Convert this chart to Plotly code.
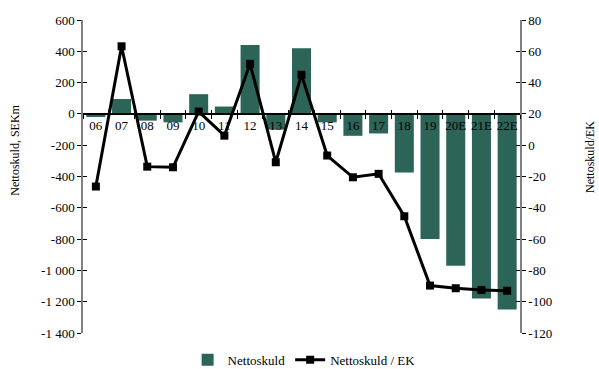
import plotly.graph_objects as go

# Years (E = estimate)
years = ["06", "07", "08", "09", "10", "11", "12", "13", "14", "15",
         "16", "17", "18", "19", "20E", "21E", "22E"]

# Net debt, SEKm (left axis)
net_debt = [-20, 95, -43, -54, 126, 47, 440, -100, 420, -54,
            -140, -125, -375, -800, -970, -1180, -1250]

# Net debt / equity, % (right axis)
net_debt_to_equity = [-26.4, 63.2, -13.7, -14.1, 21.5, 6.1, 52.0, -10.9, 45.0, -6.6,
                      -20.5, -18.3, -45.4, -89.7, -91.4, -92.5, -93.0]

left_ticks = [600, 400, 200, 0, -200, -400, -600, -800, -1000, -1200, -1400]
left_labels = ["600", "400", "200", "0", "-200", "-400", "-600", "-800",
               "-1 000", "-1 200", "-1 400"]
right_ticks = [80, 60, 40, 20, 0, -20, -40, -60, -80, -100, -120]
right_labels = ["80", "60", "40", "20", "0", "-20", "-40", "-60", "-80", "-100", "-120"]

FONT = "'Liberation Serif', 'Times New Roman', Times, serif"
BAR_COLOR = "#2c6457"
AXIS_GREY = "#808080"

fig = go.Figure()

fig.add_trace(go.Bar(
    x=years, y=net_debt, name="Nettoskuld",
    marker=dict(color=BAR_COLOR, line=dict(width=0)),
    yaxis="y",
))
fig.add_trace(go.Scatter(
    x=years, y=net_debt_to_equity, name="Nettoskuld / EK",
    mode="lines+markers",
    line=dict(color="black", width=3),
    marker=dict(symbol="square", size=8, color="black"),
    yaxis="y2",
))

# zero line of the left axis sits at this fraction of the plot height
zero_pos = (0 - (-1400)) / (600 - (-1400))
n = len(years)

fig.update_layout(
    width=599, height=369,
    margin=dict(l=83, r=79, t=20, b=36, autoexpand=False),
    paper_bgcolor="white", plot_bgcolor="white",
    font=dict(family=FONT, size=13, color="black"),
    bargap=0.26,
    showlegend=True,
    legend=dict(orientation="h", x=0.506, xanchor="center",
                yref="container", y=0.025, yanchor="middle",
                font=dict(family=FONT, size=13), itemwidth=30,
                traceorder="normal", bgcolor="rgba(0,0,0,0)"),
    xaxis=dict(
        type="category", range=[-0.5, n - 0.5],
        anchor="free", position=zero_pos,
        showline=True, linecolor="black", linewidth=1.5,
        ticks="outside", tickson="boundaries", ticklen=4, tickcolor="black",
        tickangle=0, automargin=False,
        showgrid=False, zeroline=False,
        tickfont=dict(family=FONT, size=13),
    ),
    # companion axis giving the crossing half of the category ticks
    xaxis2=dict(
        overlaying="x", anchor="free", position=zero_pos,
        range=[-0.5, n - 0.5], tickvals=[i + 0.5 for i in range(n - 1)],
        ticks="inside", ticklen=4, tickcolor="black", automargin=False,
        showticklabels=False, showline=False, showgrid=False, zeroline=False,
    ),
    yaxis=dict(
        range=[-1400, 600], tickvals=left_ticks, ticktext=left_labels,
        showline=True, linecolor=AXIS_GREY, linewidth=1.5,
        ticks="outside", ticklen=4, tickcolor="black",
        showgrid=False, zeroline=False, automargin=False,
        tickfont=dict(family=FONT, size=13),
    ),
    yaxis3=dict(
        overlaying="y", range=[-1400, 600], tickvals=left_ticks,
        ticks="inside", ticklen=4, tickcolor="black", automargin=False,
        showticklabels=False, showline=False, showgrid=False, zeroline=False,
    ),
    yaxis2=dict(
        overlaying="y", side="right", anchor="x",
        range=[-120, 80], tickvals=right_ticks, ticktext=right_labels,
        showline=True, linecolor=AXIS_GREY, linewidth=1.5,
        ticks="outside", ticklen=4, tickcolor="black",
        showgrid=False, zeroline=False, automargin=False,
        tickfont=dict(family=FONT, size=13),
    ),
    yaxis4=dict(
        overlaying="y", side="right", anchor="x",
        range=[-120, 80], tickvals=right_ticks,
        ticks="inside", ticklen=4, tickcolor="black", automargin=False,
        showticklabels=False, showline=False, showgrid=False, zeroline=False,
    ),
    annotations=[
        dict(text="Nettoskuld, SEKm", textangle=-90, xref="paper", yref="paper",
             x=-0.156, y=0.585, showarrow=False, xanchor="center", yanchor="middle",
             font=dict(family=FONT, size=12)),
        dict(text="Nettoskuld/EK", textangle=-90, xref="paper", yref="paper",
             x=1.16, y=0.562, showarrow=False, xanchor="center", yanchor="middle",
             font=dict(family=FONT, size=12)),
    ],
)

# invisible traces so the companion axes are drawn
fig.add_trace(go.Scatter(x=[None], y=[None], xaxis="x2", yaxis="y3",
                         showlegend=False, hoverinfo="skip"))
fig.add_trace(go.Scatter(x=[None], y=[None], xaxis="x", yaxis="y4",
                         showlegend=False, hoverinfo="skip"))

fig.write_html("out.html")
